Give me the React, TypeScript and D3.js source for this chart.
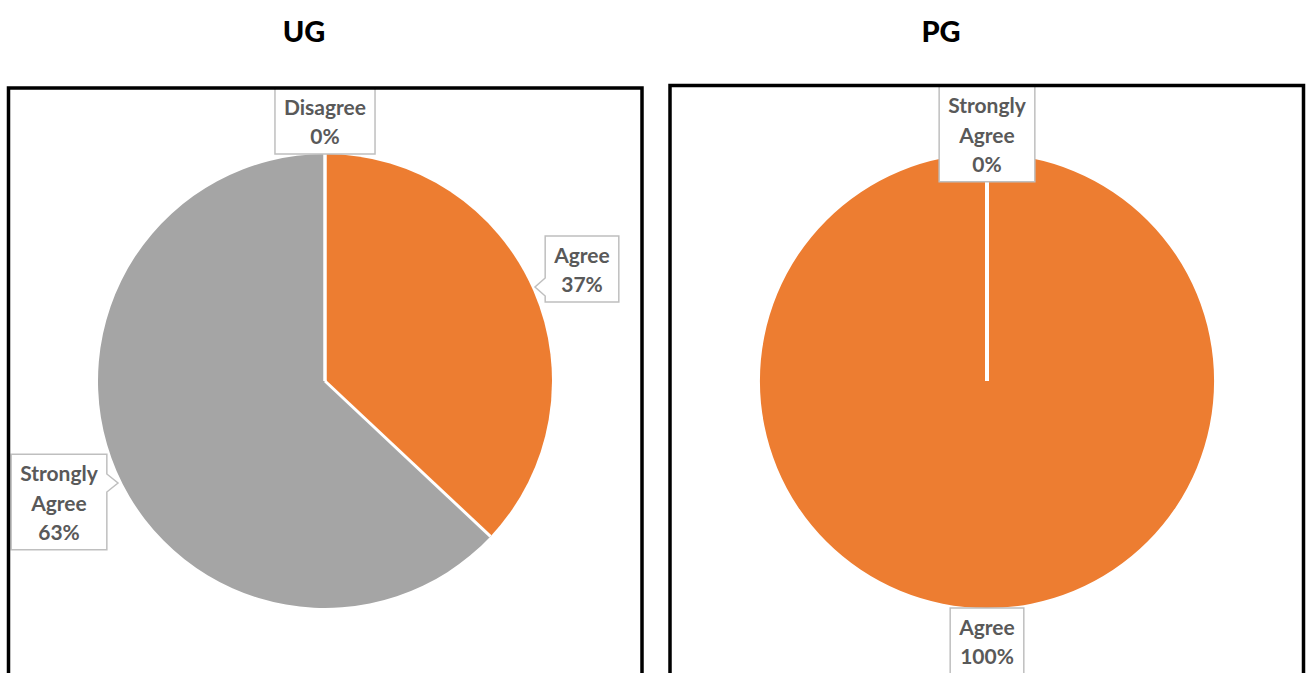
import React, { useEffect } from "react";
import * as d3 from "d3";

// ---------- data ----------
const ugCategories = ["Disagree", "Agree", "Strongly Agree"];
const ugValues = [0, 37, 63];
const pgCategories = ["Strongly Agree", "Agree"];
const pgValues = [0, 100];
const panelTitles = ["UG", "PG"];

const sliceColors: Record<string, string> = {
  Disagree: "#4472C4",
  Agree: "#ED7D31",
  "Strongly Agree": "#A5A5A5",
};

// ---------- layout ----------
const W = 1312;
const H = 673;
const panels = [
  { x0: 8.5, x1: 642, y0: 88, cx: 325, cy: 381, titleX: 304 },
  { x0: 670, x1: 1303.5, y0: 85.5, cx: 987, cy: 381, titleX: 941 },
];
const R = 227;
type LabelLayout = { dx: number; dy: number; pointer?: "left" | "right"; py?: number; tipDx?: number };
const labelLayouts: Record<string, LabelLayout>[] = [
  {
    Disagree: { dx: 0, dy: -260 },
    Agree: { dx: 257, dy: -112, pointer: "left", py: 18, tipDx: -47 },
    "Strongly Agree": { dx: -266, dy: 121, pointer: "right", py: -19, tipDx: 59 },
  },
  {
    "Strongly Agree": { dx: 0, dy: -247 },
    Agree: { dx: 0, dy: 260 },
  },
];

const FONT = "Lato, 'Open Sans', sans-serif";
const LABEL_SIZE = 21;
const LINE_H = 29.5;

function measure(text: string, size: number): number {
  const c = document.createElement("canvas").getContext("2d");
  if (!c) return text.length * size * 0.55;
  c.font = `bold ${size}px Lato`;
  return c.measureText(text).width;
}

function splitLabel(cat: string, pct: string): string[] {
  return [...cat.split(" "), pct];
}

function Label({ lines, cx, cy, layout }: { lines: string[]; cx: number; cy: number; layout: LabelLayout }) {
  const textW = Math.max(...lines.map((l) => measure(l, LABEL_SIZE)));
  const w = textW + 18;
  const h = lines.length * LINE_H + 7;
  const bx = cx + layout.dx - w / 2;
  const by = cy + layout.dy - h / 2;
  let path = "";
  if (layout.pointer) {
    const py = cy + layout.dy + (layout.py || 0);
    const tipX = cx + layout.dx + (layout.tipDx || 0);
    const n = 9;
    if (layout.pointer === "left") {
      path = `M${bx},${by} H${bx + w} V${by + h} H${bx} V${py + n} L${tipX},${py} L${bx},${py - n} Z`;
    } else {
      path = `M${bx},${by} H${bx + w} V${py - n} L${tipX},${py} L${bx + w},${py + n} V${by + h} H${bx} Z`;
    }
  } else {
    path = `M${bx},${by} H${bx + w} V${by + h} H${bx} Z`;
  }
  const top = cy + layout.dy - ((lines.length - 1) * LINE_H) / 2;
  return (
    <g>
      <path d={path} fill="#fff" stroke="#BFBFBF" strokeWidth={1.5} />
      {lines.map((l, i) => (
        <text
          key={i}
          x={cx + layout.dx}
          y={top + i * LINE_H}
          textAnchor="middle"
          dominantBaseline="central"
          fontFamily={FONT}
          fontWeight="bold"
          fontSize={LABEL_SIZE}
          fill="#595959"
        >
          {l}
        </text>
      ))}
    </g>
  );
}

function PiePanel({ idx, cats, vals }: { idx: number; cats: string[]; vals: number[] }) {
  const p = panels[idx];
  const data = cats.map((c, i) => ({ cat: c, val: vals[i] }));
  const pie = d3
    .pie<{ cat: string; val: number }>()
    .value((d) => d.val)
    .sort(null)
    .startAngle(0)
    .endAngle(2 * Math.PI);
  const arcs = pie(data);
  const arcGen = d3.arc<d3.PieArcDatum<{ cat: string; val: number }>>().innerRadius(0).outerRadius(R);
  const total = d3.sum(vals);
  const boundaries = arcs.map((a) => a.startAngle);
  return (
    <g>
      <text
        x={p.titleX}
        y={30}
        textAnchor="middle"
        dominantBaseline="central"
        fontFamily={FONT}
        fontWeight="900"
        fontSize={29}
        fill="#000"
      >
        {panelTitles[idx]}
      </text>
      <g transform={`translate(${p.cx},${p.cy})`}>
        {arcs
          .filter((a) => a.data.val > 0)
          .map((a, i) => (
            <path key={i} d={arcGen(a) || ""} fill={sliceColors[a.data.cat]} />
          ))}
        {boundaries.map((ang, i) => (
          <line
            key={i}
            x1={0}
            y1={0}
            x2={R * Math.sin(ang)}
            y2={-R * Math.cos(ang)}
            stroke="#fff"
            strokeWidth={idx === 1 ? 4 : 3}
          />
        ))}
      </g>
      {arcs.map((a, i) => {
        const lay = labelLayouts[idx][a.data.cat];
        const pct = `${Math.round((a.data.val / total) * 100)}%`;
        return <Label key={i} lines={splitLabel(a.data.cat, pct)} cx={p.cx} cy={p.cy} layout={lay} />;
      })}
      <path
        d={`M${p.x0},${H + 10} V${p.y0} H${p.x1} V${H + 10}`}
        fill="none"
        stroke="#000"
        strokeWidth={3.5}
      />
    </g>
  );
}

export default function App() {
  useEffect(() => {
    document.body.style.margin = "0";
  }, []);
  return (
    <svg width={W} height={H} style={{ position: "absolute", left: 0, top: 0, background: "#fff" }}>
      <rect width={W} height={H} fill="#fff" />
      <PiePanel idx={0} cats={ugCategories} vals={ugValues} />
      <PiePanel idx={1} cats={pgCategories} vals={pgValues} />
    </svg>
  );
}
